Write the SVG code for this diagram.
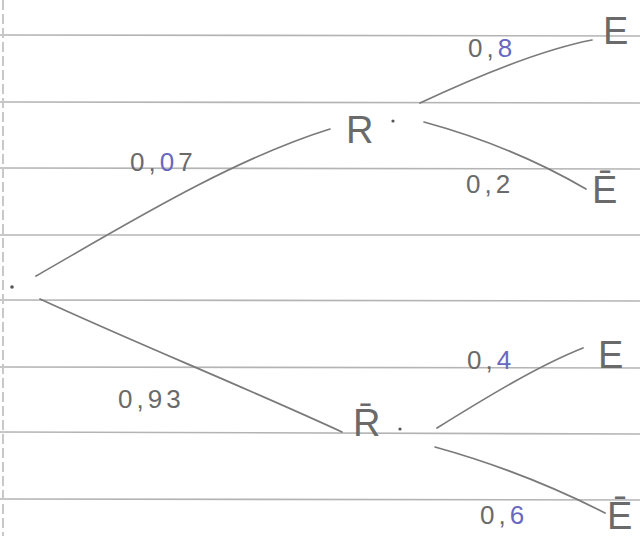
<svg xmlns="http://www.w3.org/2000/svg" width="640" height="536" viewBox="0 0 640 536">
<style>
.rule{stroke:#b4b4b4;stroke-width:1.6}
.edge{fill:none;stroke:#7a7a7a;stroke-width:1.7;stroke-linecap:round}
.lbl{font-family:"Liberation Sans","DejaVu Sans",sans-serif;font-size:26px;letter-spacing:4px;fill:#6a6a6a}
.node{font-family:"Liberation Sans","DejaVu Sans",sans-serif;font-size:38px;fill:#6a6a6a}
.blue{fill:#6868c0}
</style>
<rect width="640" height="536" fill="#ffffff"/>
<g id="paper">
<line class="rule" x1="0" y1="35" x2="640" y2="36"/>
<line class="rule" x1="0" y1="102" x2="640" y2="103"/>
<line class="rule" x1="0" y1="168" x2="640" y2="169"/>
<line class="rule" x1="0" y1="235" x2="640" y2="235"/>
<line class="rule" x1="0" y1="300" x2="640" y2="301"/>
<line class="rule" x1="0" y1="367" x2="640" y2="368"/>
<line class="rule" x1="0" y1="432" x2="640" y2="434"/>
<line class="rule" x1="0" y1="499" x2="640" y2="500"/>
<line x1="3" y1="0" x2="3" y2="536" stroke="#c8c8c8" stroke-width="2" stroke-dasharray="10,4"/>
</g>
<g id="connectors">
<path class="edge" d="M36 276 C 120 228, 230 160, 330 129"/>
<path class="edge" d="M40 299 C 140 345, 240 385, 342 432"/>
<path class="edge" d="M420 103 C 480 75, 540 50, 592 40"/>
<path class="edge" d="M424 122 C 490 140, 545 165, 586 189"/>
<path class="edge" d="M437 428 C 490 395, 540 365, 583 348"/>
<path class="edge" d="M435 447 C 500 465, 560 490, 605 513"/>
</g>
<g id="labels">
<text class="lbl" x="130" y="171">0,<tspan class="blue">0</tspan>7</text>
<text class="lbl" x="468" y="57">0,<tspan class="blue">8</tspan></text>
<text class="lbl" x="466" y="193">0,2</text>
<text class="lbl" x="118" y="408">0,93</text>
<text class="lbl" x="467" y="369">0,<tspan class="blue">4</tspan></text>
<text class="lbl" x="480" y="524">0,<tspan class="blue">6</tspan></text>
</g>
<g id="root"><circle cx="12" cy="287" r="1.8" fill="#555"/></g>
<g id="R"><text class="node" x="346" y="143" font-size="40">R</text><circle cx="393" cy="121" r="1.6" fill="#555"/></g>
<g id="Rbar"><text class="node" x="353" y="436">R̄</text><circle cx="400" cy="429" r="1.6" fill="#555"/></g>
<g id="E1"><text class="node" x="603" y="44">E</text></g>
<g id="E1bar"><text class="node" x="592" y="203" font-size="35">Ē</text></g>
<g id="E2"><text class="node" x="598" y="368">E</text></g>
<g id="E2bar"><text class="node" x="607" y="529" font-size="33">Ē</text></g>
</svg>
